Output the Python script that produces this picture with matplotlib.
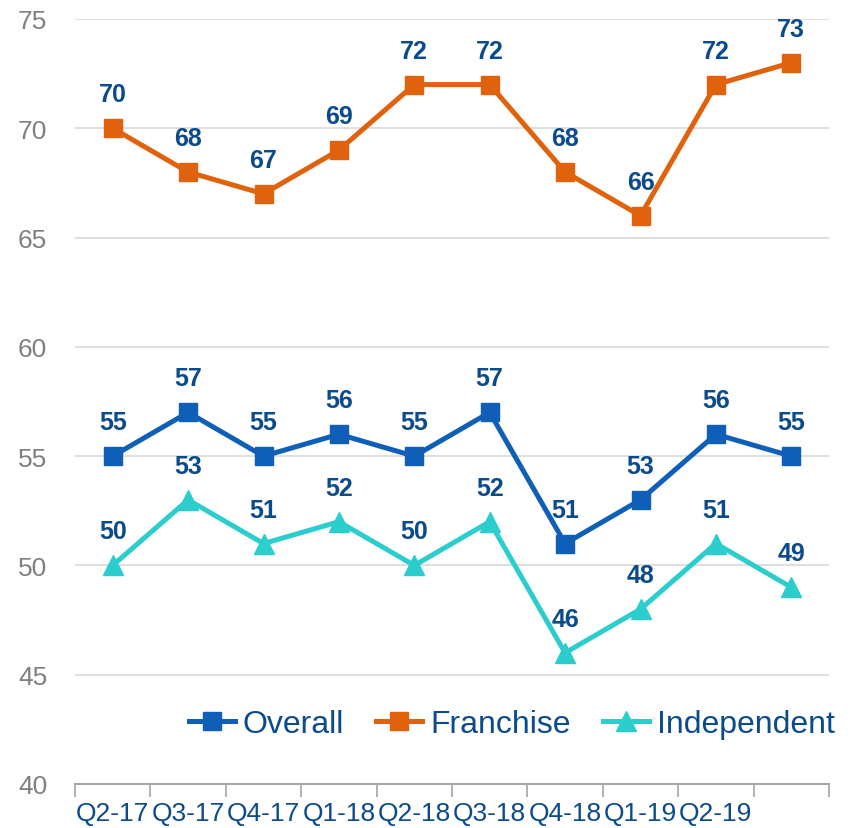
import matplotlib.pyplot as plt

plt.rcParams['font.family'] = ['Liberation Sans', 'DejaVu Sans']

quarters = ['Q2-17', 'Q3-17', 'Q4-17', 'Q1-18', 'Q2-18', 'Q3-18',
            'Q4-18', 'Q1-19', 'Q2-19', '']
overall = [55, 57, 55, 56, 55, 57, 51, 53, 56, 55]
franchise = [70, 68, 67, 69, 72, 72, 68, 66, 72, 73]
independent = [50, 53, 51, 52, 50, 52, 46, 48, 51, 49]

label_color = '#0B4A8B'
series = [
    ('Overall', overall, '#0F5FB8', 's'),
    ('Franchise', franchise, '#E0620C', 's'),
    ('Independent', independent, '#2CCDCD', '^'),
]

fig = plt.figure(figsize=(8.59, 8.29), dpi=100)
ax = fig.add_axes([75 / 859, 44 / 829, 754 / 859, 765 / 829])

x = list(range(len(quarters)))
for name, vals, color, marker in series:
    ax.plot(x, vals, color=color, lw=3.6, marker=marker,
            markersize=13 if marker == 's' else 15, label=name, zorder=3)
    for xi, v in zip(x, vals):
        ax.annotate(str(v), (xi, v), xytext=(0, 24.5), textcoords='offset points',
                    ha='center', va='center', fontsize=18, fontweight='bold',
                    color=label_color)

ax.set_xlim(-0.5, len(quarters) - 0.5)
ax.set_ylim(40, 75)
ax.set_yticks(range(40, 76, 5))
ax.set_xticks(x)
ax.set_xticklabels(quarters)
ax.set_xticks([i - 0.5 for i in range(len(quarters) + 1)], minor=True)
ax.tick_params(axis='x', which='major', length=0, pad=12, labelsize=19,
               labelcolor=label_color)
ax.tick_params(axis='x', which='minor', length=9, width=1.2, color='#A6A6A6')
ax.tick_params(axis='y', length=0, pad=20, labelsize=19, labelcolor='#808080')

ax.grid(axis='y', color='#D9D9D9', lw=1.2)
ax.set_axisbelow(True)
for s in ['top', 'right', 'left']:
    ax.spines[s].set_visible(False)
ax.spines['bottom'].set_color('#A6A6A6')
ax.spines['bottom'].set_linewidth(1.5)
ax.spines['bottom'].set_zorder(4)

leg = ax.legend(loc='center right', bbox_to_anchor=(1.025, 0.078), ncol=3,
                frameon=False, fontsize=23, handlelength=1.45,
                handletextpad=0.25, columnspacing=1.0, borderaxespad=0)
for t in leg.get_texts():
    t.set_color(label_color)

fig.savefig('out.png', dpi=100)
